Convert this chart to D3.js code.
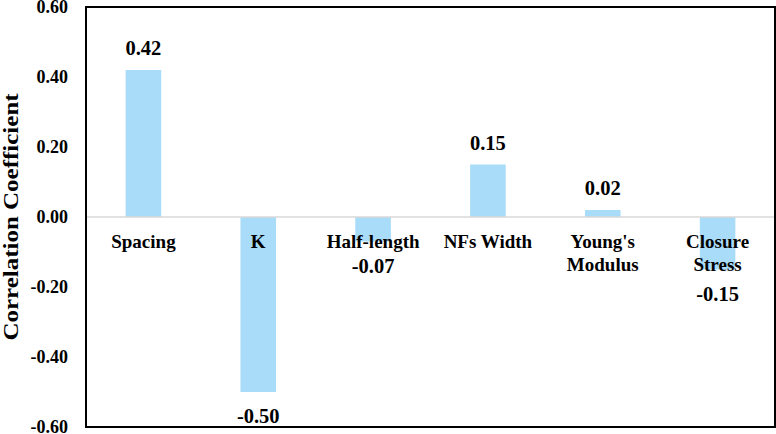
<!DOCTYPE html>
<html><head><meta charset="utf-8">
<script src="https://cdn.jsdelivr.net/npm/d3@7"></script>
<style>body{margin:0;background:#fff}svg{display:block}svg text{font-family:"Liberation Serif","Tinos","Times New Roman","DejaVu Serif",serif !important;font-weight:bold;fill:#000}</style>
</head><body>
<script>
const categories = ["Spacing", "K", "Half-length", "NFs Width", "Young's\nModulus", "Closure\nStress"];
const values = [0.42, -0.50, -0.07, 0.15, 0.02, -0.15];
const yTicks = [0.6, 0.4, 0.2, 0.0, -0.2, -0.4, -0.6];

const W = 776, H = 434;
const m = {left: 86, right: 1, top: 7, bottom: 7};
const fmt = d => d3.format(".2f")(d).replace("\u2212", "-");
const svg = d3.select("body").append("svg").attr("width", W).attr("height", H);

const x = d3.scaleBand().domain(categories).range([m.left, W - m.right]).paddingInner(0.69).paddingOuter(0.345);
const y = d3.scaleLinear().domain([-0.6, 0.6]).range([H - m.bottom, m.top]);

// y tick labels
const yAxis = d3.axisLeft(y).tickValues(yTicks).tickFormat(fmt).tickSize(0).tickPadding(18);
const ga = svg.append("g").attr("transform", `translate(${m.left},0)`).call(yAxis).attr("font-family", null).attr("font-size", null);
ga.select(".domain").remove();
ga.selectAll("text").style("font-size", "18px");

// bars
svg.selectAll("rect.bar").data(values).join("rect").attr("class", "bar")
  .attr("x", (d, i) => x(categories[i]))
  .attr("width", x.bandwidth())
  .attr("y", d => y(Math.max(0, d)))
  .attr("height", d => Math.abs(y(d) - y(0)))
  .attr("fill", "#a9dcf8");

// zero line
svg.append("line").attr("x1", m.left).attr("x2", W - m.right).attr("y1", y(0)).attr("y2", y(0))
  .attr("stroke", "#d9d9d9").attr("stroke-width", 1.5);

// frame
svg.append("rect").attr("x", m.left).attr("y", m.top).attr("width", W - m.right - m.left).attr("height", H - m.bottom - m.top)
  .attr("fill", "none").attr("stroke", "#000").attr("stroke-width", 2);

// category labels
const cl = svg.selectAll("text.cat").data(categories).join("text").attr("class", "cat")
  .attr("text-anchor", "middle").style("font-size", "19px")
  .attr("transform", d => `translate(${x(d) + x.bandwidth() / 2},${y(0) + 31})`);
cl.each(function(d) {
  const lines = d.split("\n");
  d3.select(this).selectAll("tspan").data(lines).join("tspan")
    .attr("x", 0).attr("dy", (l, i) => i === 0 ? 0 : 23).text(l => l);
});

// data labels
svg.selectAll("text.val").data(values).join("text").attr("class", "val")
  .attr("text-anchor", "middle").style("font-size", "20.5px")
  .attr("x", (d, i) => x(categories[i]) + x.bandwidth() / 2)
  .attr("y", d => d >= 0 ? y(d) - 15 : y(d) + 31)
  .text(fmt);

// y title
svg.append("text").attr("text-anchor", "middle").style("font-size", "25px")
  .attr("transform", `translate(18,${y(0)}) rotate(-90) scale(1,0.85)`)
  .text("Correlation Coefficient");
</script>
</body></html>
